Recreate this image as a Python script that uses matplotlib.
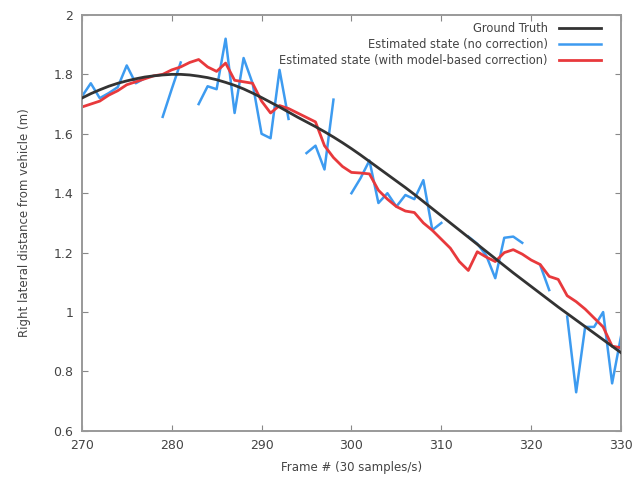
import numpy as np
import matplotlib
matplotlib.use("Agg")
import matplotlib.pyplot as plt

frames = list(range(270, 331))

ground_truth = [
    1.720, 1.735, 1.748, 1.760, 1.770, 1.778, 1.785, 1.791, 1.795, 1.798,
    1.800, 1.800, 1.798, 1.794, 1.789, 1.782, 1.773, 1.763, 1.751, 1.737,
    1.722, 1.706, 1.690, 1.673, 1.656, 1.640, 1.624, 1.607, 1.589, 1.570,
    1.550, 1.529, 1.507, 1.485, 1.463, 1.441, 1.419, 1.396, 1.372, 1.348,
    1.324, 1.300, 1.276, 1.252, 1.228, 1.204, 1.180, 1.156, 1.132, 1.109,
    1.086, 1.063, 1.040, 1.017, 0.995, 0.973, 0.951, 0.929, 0.907, 0.885,
    0.863,
]

nan = float("nan")
no_correction = [
    1.725, 1.770, 1.720, 1.737, 1.757, 1.830, 1.770, 1.787, nan, 1.657,
    1.750, 1.840, nan, 1.700, 1.760, 1.750, 1.920, 1.670, 1.855, 1.770,
    1.600, 1.585, 1.815, 1.650, nan, 1.535, 1.560, 1.480, 1.715, nan,
    1.400, 1.450, 1.510, 1.367, 1.400, 1.355, 1.394, 1.380, 1.444, 1.276,
    1.300, nan, nan, 1.254, 1.230, 1.190, 1.114, 1.250, 1.254, 1.233,
    nan, 1.158, 1.074, nan, 0.985, 0.730, 0.950, 0.950, 1.000, 0.760,
    0.920,
]

with_correction = [
    1.690, 1.700, 1.710, 1.730, 1.745, 1.765, 1.775, 1.785, 1.795, 1.800,
    1.815, 1.825, 1.840, 1.850, 1.825, 1.810, 1.838, 1.780, 1.775, 1.770,
    1.710, 1.670, 1.695, 1.685, 1.670, 1.655, 1.640, 1.560, 1.520, 1.490,
    1.470, 1.468, 1.465, 1.410, 1.380, 1.355, 1.340, 1.335, 1.300, 1.275,
    1.245, 1.215, 1.170, 1.140, 1.203, 1.185, 1.170, 1.200, 1.210, 1.195,
    1.175, 1.160, 1.120, 1.110, 1.055, 1.035, 1.010, 0.980, 0.950, 0.885,
    0.880,
]

x_ticks = [270, 280, 290, 300, 310, 320, 330]
y_ticks = [0.6, 0.8, 1.0, 1.2, 1.4, 1.6, 1.8, 2.0]
y_tick_labels = ["0.6", "0.8", "1", "1.2", "1.4", "1.6", "1.8", "2"]

fig = plt.figure(figsize=(6.39, 4.82), dpi=100)
ax = fig.add_axes([0.128, 0.106, 0.844, 0.863])

ax.plot(frames, ground_truth, color="#333333", linewidth=2.0, label="Ground Truth", zorder=3)
ax.plot(frames, no_correction, color="#3d9bf0", linewidth=1.8, label="Estimated state (no correction)", zorder=2)
ax.plot(frames, with_correction, color="#e8393c", linewidth=2.0,
        label="Estimated state (with model-based correction)", zorder=2.5)

ax.set_xlim(270, 330)
ax.set_ylim(0.6, 2.0)
ax.set_xticks(x_ticks)
ax.set_yticks(y_ticks, y_tick_labels)
ax.tick_params(direction="in", top=True, right=True, length=4, color="#888888",
               labelsize=9, labelcolor="#444444", pad=6)
for spine in ax.spines.values():
    spine.set_color("#999999")
    spine.set_linewidth(1.4)

ax.set_xlabel("Frame # (30 samples/s)", fontsize=8.5, color="#444444", labelpad=6)
ax.set_ylabel("Right lateral distance from vehicle (m)", fontsize=8.5, color="#444444", labelpad=16)

leg = ax.legend(loc="upper right", frameon=False, markerfirst=False, fontsize=8.3,
                handlelength=3.6, handletextpad=1.0, labelspacing=0.28,
                borderaxespad=0.2, borderpad=0.4, bbox_to_anchor=(0.975, 1.0))
for text in leg.get_texts():
    text.set_color("#444444")

fig.savefig("out.png", dpi=100)
